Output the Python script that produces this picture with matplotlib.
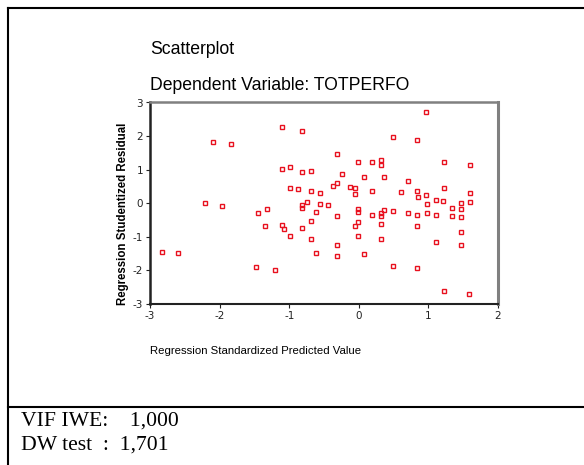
import matplotlib
matplotlib.use("Agg")
import matplotlib.pyplot as plt
from matplotlib.lines import Line2D

plt.rcParams["axes.unicode_minus"] = False

# Regression standardized predicted value (x) and studentized residual (y)
pred = [-2.830, -2.592, -2.208, -2.098, -1.960, -1.830, -1.476, -1.454, -1.351, -1.322,
        -1.203, -1.109, -1.109, -1.106, -1.070, -0.983, -0.983, -0.983, -0.868, -0.815,
        -0.815, -0.815, -0.815, -0.815, -0.739, -0.690, -0.690, -0.690, -0.690, -0.614,
        -0.614, -0.563, -0.563, -0.437, -0.374, -0.307, -0.307, -0.307, -0.307, -0.307,
        -0.247, -0.121, -0.060, -0.060, -0.060, -0.006, -0.006, -0.006, -0.006, -0.006,
        0.069, 0.069, 0.195, 0.195, 0.195, 0.325, 0.325, 0.325, 0.325, 0.325,
        0.325, 0.364, 0.364, 0.489, 0.489, 0.489, 0.612, 0.705, 0.705, 0.830,
        0.830, 0.830, 0.830, 0.830, 0.856, 0.960, 0.960, 0.986, 0.986, 1.111,
        1.111, 1.111, 1.216, 1.226, 1.226, 1.226, 1.341, 1.341, 1.466, 1.466,
        1.466, 1.466, 1.466, 1.592, 1.592, 1.592, 1.589]
resid = [-1.448, -1.496, -0.003, 1.836, -0.084, 1.758, -1.896, -0.293, -0.681, -0.158,
         -1.979, 2.266, 1.021, -0.660, -0.770, 1.072, 0.445, -0.979, 0.415, 2.155,
         0.922, -0.054, -0.134, -0.749, 0.027, 0.970, 0.364, -0.531, -1.054, -0.272,
         -1.496, 0.313, -0.033, -0.054, 0.528, 1.469, 0.597, -0.373, -1.233, -1.582,
         0.863, 0.475, 0.448, 0.266, -0.690, 1.236, -0.182, -0.272, -0.561, -0.979,
         0.767, -1.525, 1.236, 0.364, -0.343, 1.290, 1.125, -0.293, -0.373, -0.630,
         -1.078, 0.767, -0.212, 1.967, -0.242, -1.854, 0.340, 0.654, -0.301, 1.872,
         0.364, -0.343, -0.690, -1.925, 0.185, 2.713, 0.236, -0.030, -0.301, 0.096,
         -0.343, -1.143, 0.072, 1.239, 0.445, -2.600, -0.128, -0.391, -0.003, -0.158,
         -0.421, -0.869, -1.239, 1.131, 0.313, 0.051, -2.690]

x_ticks = [-3, -2, -1, 0, 1, 2]
y_ticks = [-3, -2, -1, 0, 1, 2, 3]
title1 = "Scatterplot"
title2 = "Dependent Variable: TOTPERFO"
xlabel = "Regression Standardized Predicted Value"
ylabel = "Regression Studentized Residual"
notes = ["VIF IWE:    1,000", "DW test  :  1,701"]

W, H = 584, 465
fig = plt.figure(figsize=(W / 100, H / 100), dpi=100)
fig.patch.set_facecolor("white")

def fx(px):
    return px / W

def fy(py):
    return 1 - py / H

ax = fig.add_axes([fx(150), fy(304), (498 - 150) / W, (304 - 102.5) / H])
ax.plot(pred, resid, linestyle="none", marker="s", markersize=3.5,
        markerfacecolor="none", markeredgecolor="#e8101e", markeredgewidth=1.0)
ax.set_xlim(-3, 2)
ax.set_ylim(-3, 3)
ax.set_xticks(x_ticks)
ax.set_yticks(y_ticks)
ax.tick_params(axis="both", direction="out", length=3, width=0.8, labelsize=7.5,
               pad=2, colors="#222222")
ax.spines["left"].set_color("#222222")
ax.spines["bottom"].set_color("#222222")
ax.spines["left"].set_linewidth(1.8)
ax.spines["bottom"].set_linewidth(1.5)
ax.spines["top"].set_color("#808080")
ax.spines["right"].set_color("#808080")
ax.spines["top"].set_linewidth(1.8)
ax.spines["right"].set_linewidth(2.2)

sans = ["Liberation Sans", "DejaVu Sans"]
serif = ["Liberation Serif", "DejaVu Serif"]
fig.text(fx(150), fy(49.5), title1, fontsize=12.7, family=sans, ha="left", va="center")
fig.text(fx(150), fy(86), title2, fontsize=12.7, family=sans, ha="left", va="center")
fig.text(fx(150), fy(351), xlabel, fontsize=8.2, family=sans, ha="left", va="center")
fig.text(fx(123), fy(214), ylabel, fontsize=8.3, family=sans, rotation=90,
         ha="center", va="center", fontweight="bold")
fig.text(fx(21), fy(421), notes[0], fontsize=15.6, family=serif, ha="left", va="center")
fig.text(fx(21), fy(445), notes[1], fontsize=15.6, family=serif, ha="left", va="center")

# outer frame lines
for (x0, y0, x1, y1) in [(8, 8, 584, 8), (8, 8, 8, 465), (8, 407, 584, 407)]:
    fig.add_artist(Line2D([fx(x0), fx(x1)], [fy(y0), fy(y1)], color="black",
                          linewidth=1.5, transform=fig.transFigure))

fig.savefig("out.png", dpi=100)
